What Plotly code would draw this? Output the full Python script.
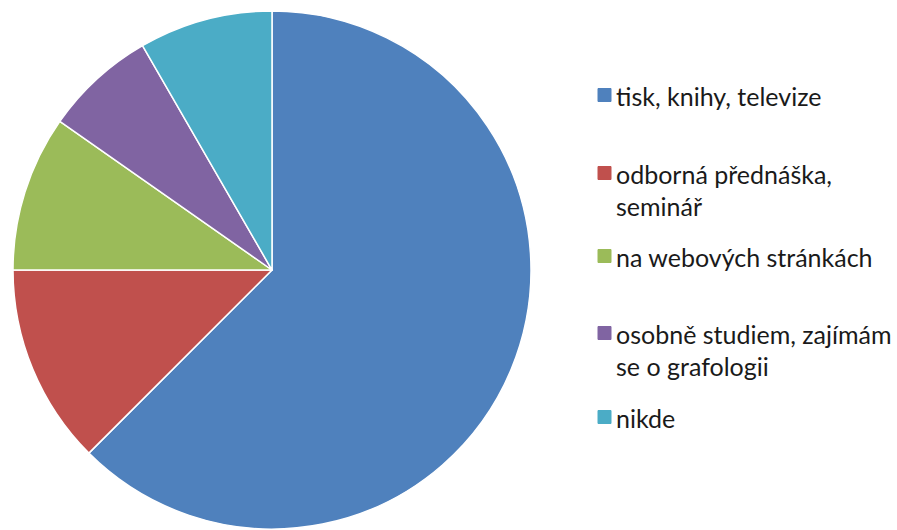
import plotly.graph_objects as go

labels = ["tisk, knihy, televize", "odborná přednáška, seminář", "na webových stránkách",
          "osobně studiem, zajímám se o grafologii", "nikde"]
legend_lines = [["tisk, knihy, televize"], ["odborná přednáška,", "seminář"], ["na webových stránkách"],
                ["osobně studiem, zajímám", "se o grafologii"], ["nikde"]]
values = [45, 9, 7, 5, 6]
colors = ["#4F81BD", "#C0504D", "#9BBB59", "#8064A2", "#4BACC6"]
legend_y_px = [95, 173, 256, 333, 417]

W, H = 897, 530
fig = go.Figure(go.Pie(
    labels=labels, values=values, sort=False, direction="clockwise", rotation=0,
    marker=dict(colors=colors, line=dict(color="white", width=1.5)),
    textinfo="none", hoverinfo="label+percent", showlegend=False,
    domain=dict(x=[(272 - 259) / W, (272 + 259) / W], y=[(H - 270 - 259) / H, (H - 270 + 259) / H]),
))

line_h = 32
for lines, y0, c in zip(legend_lines, legend_y_px, colors):
    fig.add_shape(type="rect", xref="paper", yref="paper",
                  x0=598 / W, x1=611 / W, y0=1 - (y0 + 6.5) / H, y1=1 - (y0 - 6.5) / H,
                  fillcolor=c, line=dict(color=c, width=1))
    for i, t in enumerate(lines):
        fig.add_annotation(text=t, xref="paper", yref="paper", x=614 / W, y=1 - (y0 + 1 + i * line_h) / H,
                           xanchor="left", yanchor="middle", showarrow=False,
                           font=dict(family="Lato, Carlito, sans-serif", size=25, color="#1a1a1a"))

fig.update_layout(width=W, height=H, margin=dict(l=0, r=0, t=0, b=0),
                  paper_bgcolor="white", plot_bgcolor="white")
fig.write_html("out.html", config={"displayModeBar": False},
               post_script="document.body.style.margin='0';")
